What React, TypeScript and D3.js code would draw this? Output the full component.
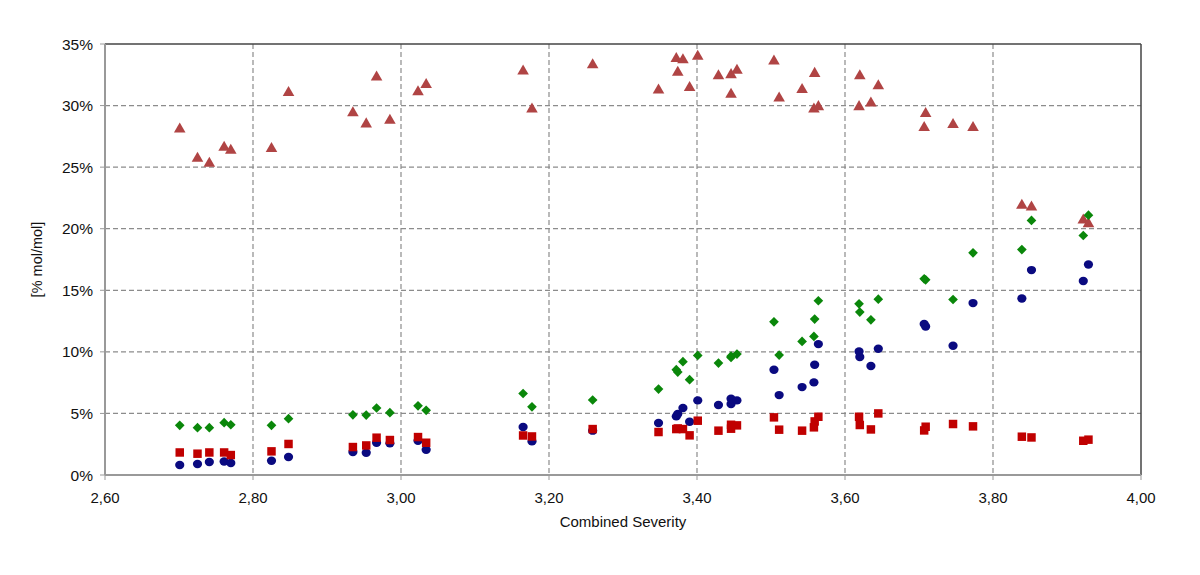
import React from 'react';
import * as d3 from 'd3';

// Combined severity (x) shared by all four series
const severity = [
  2.701, 2.725, 2.741, 2.761, 2.770, 2.825, 2.848, 2.935, 2.953, 2.967, 2.985,
  3.023, 3.034, 3.165, 3.177, 3.259, 3.348, 3.372, 3.374, 3.381, 3.390, 3.401,
  3.429, 3.446, 3.446, 3.454, 3.504, 3.511, 3.542, 3.559, 3.558, 3.564, 3.620,
  3.619, 3.635, 3.645, 3.709, 3.707, 3.746, 3.773, 3.839, 3.852, 3.922, 3.929,
];

// [% mol/mol] per series
const triangleSeries = [
  28.08, 25.7, 25.3, 26.6, 26.35, 26.5, 31.05, 29.4, 28.5, 32.3, 28.8,
  31.1, 31.7, 32.8, 29.7, 33.3, 31.25, 33.8, 32.7, 33.7, 31.45, 34.0,
  32.4, 32.5, 30.9, 32.85, 33.6, 30.6, 31.3, 32.6, 29.7, 29.9, 32.4,
  29.9, 30.2, 31.6, 29.35, 28.2, 28.45, 28.2, 21.9, 21.75, 20.7, 20.4,
];
const diamondSeries = [
  4.03, 3.84, 3.84, 4.25, 4.08, 4.03, 4.57, 4.89, 4.87, 5.44, 5.06,
  5.62, 5.25, 6.62, 5.54, 6.09, 6.98, 8.55, 8.36, 9.2, 7.74, 9.71,
  9.09, 9.55, 9.65, 9.82, 12.44, 9.74, 10.85, 12.66, 11.25, 14.15, 13.23,
  13.9, 12.6, 14.28, 15.85, 15.93, 14.25, 18.04, 18.31, 20.67, 19.45, 21.1,
];
const circleSeries = [
  0.81, 0.89, 1.06, 1.1, 0.97, 1.16, 1.46, 1.87, 1.81, 2.62, 2.57,
  2.78, 2.05, 3.9, 2.73, 3.6, 4.22, 4.76, 4.95, 5.44, 4.33, 6.06,
  5.68, 6.19, 5.76, 6.06, 8.55, 6.49, 7.14, 8.95, 7.52, 10.63, 9.58,
  10.03, 8.85, 10.25, 12.06, 12.26, 10.5, 13.96, 14.33, 16.64, 15.75, 17.1,
];
const squareSeries = [
  1.83, 1.73, 1.83, 1.83, 1.62, 1.92, 2.52, 2.27, 2.4, 3.03, 2.84,
  3.08, 2.62, 3.21, 3.13, 3.73, 3.49, 3.73, 3.78, 3.73, 3.22, 4.41,
  3.6, 4.08, 3.76, 4.03, 4.68, 3.68, 3.6, 4.35, 3.87, 4.73, 4.06,
  4.73, 3.7, 5.0, 3.92, 3.62, 4.14, 3.95, 3.11, 3.05, 2.78, 2.87,
];

const xTicks = [2.6, 2.8, 3.0, 3.2, 3.4, 3.6, 3.8, 4.0];
const yTicks = [0, 5, 10, 15, 20, 25, 30, 35];

const W = 1200;
const H = 575;
const margin = { top: 44, right: 59, bottom: 100, left: 105 };
const FONT = '"Liberation Sans", Arial, sans-serif';

const App = () => {
  const width = W - margin.left - margin.right;
  const height = H - margin.top - margin.bottom;

  const x = d3.scaleLinear().domain([2.6, 4.0]).range([0, width]);
  const y = d3.scaleLinear().domain([0, 35]).range([height, 0]);

  const sym = (type: d3.SymbolType, size: number) => d3.symbol().type(type).size(size)();
  const triPath = sym(d3.symbolTriangle, 58);
  const diaPath = sym(d3.symbolDiamond2, 60);
  const sqPath = sym(d3.symbolSquare, 72);

  const fmtX = (v: number) => v.toFixed(2).replace('.', ',');

  const series = [
    { vals: circleSeries, color: '#0a0a80', shape: 'circle' },
    { vals: squareSeries, color: '#c00000', shape: sqPath },
    { vals: triangleSeries, color: '#b04444', shape: triPath },
    { vals: diamondSeries, color: '#0a870a', shape: diaPath },
  ];

  return (
    <svg width={W} height={H} style={{ position: 'absolute', left: 0, top: 0, background: '#fff' }}>
      <g transform={`translate(${margin.left},${margin.top})`}>
        {/* gridlines */}
        {yTicks.slice(1, -1).map(t => (
          <line key={'gy' + t} x1={0} x2={width} y1={y(t)} y2={y(t)}
            stroke="#8c8c8c" strokeWidth={1.2} strokeDasharray="5,3" />
        ))}
        {xTicks.slice(1, -1).map(t => (
          <line key={'gx' + t} x1={x(t)} x2={x(t)} y1={0} y2={height}
            stroke="#8c8c8c" strokeWidth={1.2} strokeDasharray="5,3" />
        ))}

        {/* frame */}
        <line x1={0} x2={width} y1={0} y2={0} stroke="#444" strokeWidth={1.5} />
        <line x1={width} x2={width} y1={0} y2={height} stroke="#444" strokeWidth={1.5} />
        <line x1={0} x2={0} y1={0} y2={height} stroke="#999" strokeWidth={2} />
        <line x1={0} x2={width} y1={height} y2={height} stroke="#999" strokeWidth={2} />

        {/* y axis ticks + labels */}
        {yTicks.map(t => (
          <g key={'ty' + t} transform={`translate(0,${y(t)})`}>
            <line x1={-5} x2={0} stroke="#999" strokeWidth={1} />
            <text x={-12} dy="0.36em" textAnchor="end" fontFamily={FONT} fontSize={15.5} fill="#111">
              {t}%
            </text>
          </g>
        ))}

        {/* x axis ticks + labels */}
        {xTicks.map(t => (
          <g key={'tx' + t} transform={`translate(${x(t)},${height})`}>
            <line y1={0} y2={5} stroke="#999" strokeWidth={1} />
            <text y={28} textAnchor="middle" fontFamily={FONT} fontSize={15} fill="#111">
              {fmtX(t)}
            </text>
          </g>
        ))}

        {/* axis titles */}
        <text x={width / 2} y={height + 52} textAnchor="middle" fontFamily={FONT} fontSize={15} fill="#111">
          Combined Severity
        </text>
        <text transform={`translate(${-63},${height / 2}) rotate(-90)`} textAnchor="middle"
          fontFamily={FONT} fontSize={14.5} fill="#111">
          [% mol/mol]
        </text>

        {/* markers */}
        {series.map((s, si) => (
          <g key={'s' + si} fill={s.color}>
            {s.vals.map((v, i) =>
              s.shape === 'circle' ? (
                <ellipse key={i} cx={x(severity[i])} cy={y(v)} rx={4.6} ry={4.2} />
              ) : (
                <path key={i} d={s.shape as string} transform={`translate(${x(severity[i])},${y(v)})`} />
              )
            )}
          </g>
        ))}
      </g>
    </svg>
  );
};

export default App;
